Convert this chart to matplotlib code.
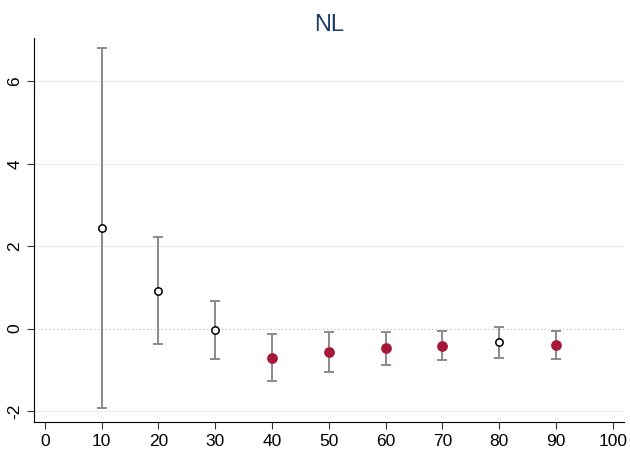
import matplotlib
matplotlib.use("Agg")
import matplotlib.pyplot as plt
import numpy as np

plt.rcParams["font.family"] = ["Liberation Sans", "DejaVu Sans"]

# data
x = [10, 20, 30, 40, 50, 60, 70, 80, 90]
est = [2.44, 0.92, -0.04, -0.70, -0.57, -0.48, -0.41, -0.32, -0.40]
lo = [-1.93, -0.37, -0.74, -1.28, -1.06, -0.87, -0.76, -0.70, -0.74]
hi = [6.80, 2.22, 0.67, -0.13, -0.08, -0.08, -0.06, 0.04, -0.06]
xticks = list(range(0, 101, 10))
yticks = [-2, 0, 2, 4, 6]

x = np.array(x)
est = np.array(est)
lo = np.array(lo)
hi = np.array(hi)
sig = (hi < 0) | (lo > 0)

fig = plt.figure(figsize=(6.3, 4.55), dpi=100)
ax = fig.add_axes([0.054, 0.073, 0.936, 0.844])

for yt in yticks:
    if yt != 0:
        ax.axhline(yt, color="#eaf1f3", lw=1, zorder=0)
ax.axhline(0, color="#b8c4c8", lw=0.9, ls=(0, (1, 2)), zorder=0)

ax.errorbar(x, est, yerr=[est - lo, hi - est], fmt="none", ecolor="#8a8a8a",
            elinewidth=1.4, capsize=3.5, capthick=1.4, zorder=2)
ax.scatter(x[sig], est[sig], s=45, color="#a6173a", zorder=3)
ax.scatter(x[~sig], est[~sig], s=28, facecolor="white", edgecolor="black",
           linewidth=1.1, zorder=3)

ax.set_xlim(-1.9, 101.9)
ax.set_ylim(-2.26, 7.06)
ax.set_xticks(xticks)
ax.set_yticks(yticks)
ax.set_yticklabels([str(v) for v in yticks], rotation=90, va="center")
ax.tick_params(labelsize=12.5, length=5, color="#333333")
ax.spines["top"].set_visible(False)
ax.spines["right"].set_visible(False)

fig.text(0.522, 0.945, "NL", ha="center", va="center", fontsize=17, color="#1e3a6a")

fig.savefig("out.png", dpi=100)
